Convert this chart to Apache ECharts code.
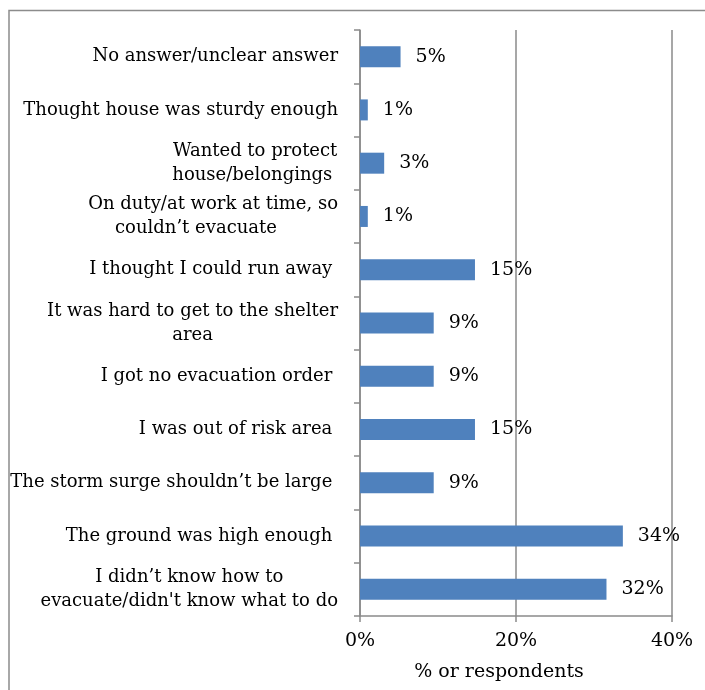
<!DOCTYPE html>
<html><head><meta charset="utf-8">
<script src="https://cdn.jsdelivr.net/npm/echarts@6.0.0/dist/echarts.min.js"></script>
<style>html,body{margin:0;padding:0;background:#fff}#c{width:705px;height:690px}</style>
</head><body><div id="c"></div>
<script>
// Categories listed bottom -> top (ECharts category y-axis order)
const categories = [
  "I didn\u2019t know how to\nevacuate/didn't know what to do",
  "The ground was high enough ",
  "The storm surge shouldn\u2019t be large ",
  "I was out of risk area ",
  "I got no evacuation order ",
  "It was hard to get to the shelter\narea",
  "I thought I could run away ",
  "On duty/at work at time, so\ncouldn\u2019t evacuate      ",
  "Wanted to protect\nhouse/belongings ",
  "Thought house was sturdy enough",
  "No answer/unclear answer"
];
const values = [31.6, 33.7, 9.45, 14.74, 9.45, 9.45, 14.74, 1.0, 3.1, 1.0, 5.2];
const xMin = 0, xMax = 40, xStep = 20;
const axisTitle = "% or respondents";

const FONT = "DejaVu Serif";
const LINE = '#8a8a8a';
const chart = echarts.init(document.getElementById('c'), null, {renderer: 'canvas'});
const option = {
  animation: false,
  backgroundColor: '#fff',
  graphic: [{
    type: 'rect', silent: true, z: -10,
    shape: {x: 9, y: 10.5, width: 720, height: 720},
    style: {fill: 'none', stroke: '#8c8c8c', lineWidth: 1.5}
  }],
  grid: {left: 360, right: 33, top: 30, bottom: 74, containLabel: false},
  xAxis: {
    type: 'value', min: xMin, max: xMax, interval: xStep,
    axisLine: {show: true, lineStyle: {color: LINE, width: 1.5}},
    axisTick: {show: true, length: 6, lineStyle: {color: LINE, width: 1.5}},
    splitLine: {show: true, lineStyle: {color: LINE, width: 1.5}},
    axisLabel: {formatter: v => v + '%', fontFamily: FONT, fontSize: 19, color: '#000', margin: 16},
    name: axisTitle, nameLocation: 'middle', nameGap: 47,
    nameTextStyle: {fontFamily: FONT, fontSize: 19, color: '#000', padding: [0, 34, 0, 0]}
  },
  yAxis: {
    type: 'category', data: categories,
    axisLine: {show: true, lineStyle: {color: LINE, width: 1.5}},
    axisTick: {show: true, length: 6, lineStyle: {color: LINE, width: 1.5}},
    splitLine: {show: false},
    axisLabel: {
      margin: 22, interval: 0,
      fontFamily: FONT, fontSize: 18, color: '#000',
      formatter: v => v.split('\n').map(l => '{c|' + l + '}').join('\n'),
      rich: {c: {align: 'center', fontFamily: FONT, fontSize: 18, color: '#000', lineHeight: 24}}
    }
  },
  series: [{
    type: 'bar', data: values, barWidth: 21,
    itemStyle: {color: '#4F81BD'},
    label: {
      show: true, position: 'right', distance: 15,
      formatter: p => Math.round(p.value) + '%',
      fontFamily: FONT, fontSize: 19, color: '#000'
    }
  }]
};
chart.setOption(option);
</script>
</body></html>
